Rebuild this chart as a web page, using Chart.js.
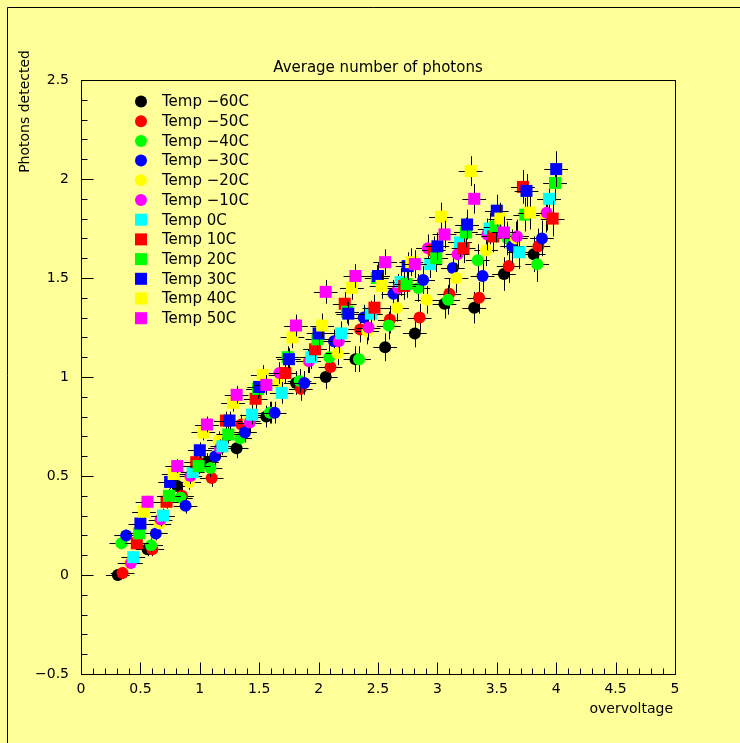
<!DOCTYPE html>
<html>
<head>
<meta charset="utf-8">
<script src="https://cdn.jsdelivr.net/npm/chart.js@4.4.1/dist/chart.umd.min.js"></script>
<style>
  html, body { margin: 0; padding: 0; background: #ffff99; }
</style>
</head>
<body>
<canvas id="photonsChart" width="740" height="743"></canvas>
<script>
// --- data ---
const temps = ['Temp \u221260C', 'Temp \u221250C', 'Temp \u221240C', 'Temp \u221230C', 'Temp \u221220C', 'Temp \u221210C',
               'Temp 0C', 'Temp 10C', 'Temp 20C', 'Temp 30C', 'Temp 40C', 'Temp 50C'];
const markerColors = ['#000000', '#ff0000', '#00ff00', '#0000ff', '#ffff00', '#ff00ff',
                      '#00ffff', '#ff0000', '#00ff00', '#0000ff', '#ffff00', '#ff00ff'];
const markerStyles = ['circle', 'circle', 'circle', 'circle', 'circle', 'circle',
                      'rect', 'rect', 'rect', 'rect', 'rect', 'rect'];

const m60x = [0.31, 0.56, 0.81, 1.06, 1.31, 1.56, 1.81, 2.06, 2.31, 2.56, 2.81, 3.06, 3.31, 3.56, 3.81];
const m60y = [0.00, 0.13, 0.45, 0.57, 0.64, 0.80, 0.97, 1.00, 1.09, 1.15, 1.22, 1.37, 1.35, 1.52, 1.62];
const m50x = [0.35, 0.60, 0.85, 1.10, 1.35, 1.60, 1.85, 2.10, 2.35, 2.60, 2.85, 3.10, 3.35, 3.60, 3.85];
const m50y = [0.01, 0.13, 0.40, 0.49, 0.76, 0.82, 0.94, 1.05, 1.24, 1.29, 1.30, 1.42, 1.40, 1.56, 1.66];
const m40x = [0.34, 0.59, 0.84, 1.09, 1.34, 1.59, 1.84, 2.09, 2.34, 2.59, 2.84, 3.09, 3.34, 3.59, 3.84];
const m40y = [0.16, 0.15, 0.39, 0.54, 0.69, 0.82, 0.98, 1.10, 1.09, 1.26, 1.45, 1.39, 1.59, 1.70, 1.57];
const m30x = [0.38, 0.63, 0.88, 1.13, 1.38, 1.63, 1.88, 2.13, 2.38, 2.63, 2.88, 3.13, 3.38, 3.63, 3.88];
const m30y = [0.20, 0.21, 0.35, 0.60, 0.72, 0.82, 0.97, 1.18, 1.30, 1.42, 1.49, 1.55, 1.51, 1.66, 1.70];
const m20x = [0.41, 0.66, 0.91, 1.16, 1.41, 1.66, 1.91, 2.16, 2.41, 2.66, 2.91, 3.16, 3.41, 3.66, 3.91];
const m20y = [0.06, 0.26, 0.47, 0.68, 0.78, 0.97, 1.08, 1.12, 1.23, 1.35, 1.39, 1.50, 1.64, 1.70, 1.82];
const m10x = [0.42, 0.67, 0.92, 1.17, 1.42, 1.67, 1.92, 2.17, 2.42, 2.67, 2.92, 3.17, 3.42, 3.67, 3.92];
const m10y = [0.06, 0.28, 0.50, 0.64, 0.77, 1.02, 1.08, 1.18, 1.25, 1.45, 1.65, 1.62, 1.72, 1.71, 1.83];
const p0x  = [0.44, 0.69, 0.94, 1.19, 1.44, 1.69, 1.94, 2.19, 2.44, 2.69, 2.94, 3.19, 3.44, 3.69, 3.94];
const p0y  = [0.09, 0.30, 0.52, 0.65, 0.81, 0.92, 1.10, 1.22, 1.32, 1.48, 1.57, 1.68, 1.75, 1.63, 1.90];
const p10x = [0.47, 0.72, 0.97, 1.22, 1.47, 1.72, 1.97, 2.22, 2.47, 2.72, 2.97, 3.22, 3.47, 3.72, 3.97];
const p10y = [0.16, 0.37, 0.57, 0.78, 0.89, 1.02, 1.14, 1.37, 1.35, 1.46, 1.64, 1.65, 1.71, 1.96, 1.80];
const p20x = [0.49, 0.74, 0.99, 1.24, 1.49, 1.74, 1.99, 2.24, 2.49, 2.74, 2.99, 3.24, 3.49, 3.74, 3.99];
const p20y = [0.21, 0.40, 0.55, 0.71, 0.94, 1.10, 1.19, 1.33, 1.50, 1.47, 1.60, 1.73, 1.76, 1.82, 1.98];
const p30x = [0.50, 0.75, 1.00, 1.25, 1.50, 1.75, 2.00, 2.25, 2.50, 2.75, 3.00, 3.25, 3.50, 3.75, 4.00];
const p30y = [0.26, 0.47, 0.63, 0.78, 0.95, 1.09, 1.22, 1.32, 1.51, 1.56, 1.66, 1.77, 1.84, 1.94, 2.05];
const p40x = [0.53, 0.78, 1.03, 1.28, 1.53, 1.78, 2.03, 2.28, 2.53, 2.78, 3.03, 3.28, 3.53, 3.78];
const p40y = [0.32, 0.51, 0.72, 0.87, 1.01, 1.20, 1.26, 1.45, 1.46, 1.58, 1.81, 2.04, 1.80, 1.83];
const p50x = [0.56, 0.81, 1.06, 1.31, 1.56, 1.81, 2.06, 2.31, 2.56, 2.81, 3.06, 3.31, 3.56];
const p50y = [0.37, 0.55, 0.76, 0.91, 0.96, 1.26, 1.43, 1.51, 1.58, 1.57, 1.72, 1.90, 1.73];

// error bars (same for every temperature, by point index)
const xErr = 0.1;
const yErr = [0.03, 0.035, 0.04, 0.045, 0.05, 0.055, 0.06, 0.06, 0.065, 0.07, 0.07, 0.075, 0.08, 0.085, 0.09];

const xTicks = { min: 0, max: 5, step: 0.5, minor: 0.1 };
const yTicks = { min: -0.5, max: 2.5, step: 0.5, minor: 0.1 };

const xSeries = [m60x, m50x, m40x, m30x, m20x, m10x, p0x, p10x, p20x, p30x, p40x, p50x];
const ySeries = [m60y, m50y, m40y, m30y, m20y, m10y, p0y, p10y, p20y, p30y, p40y, p50y];

const FONT = 'DejaVu Sans';
const BG = '#ffff99';

function fmt(v) {
    const s = String(Math.round(v * 10) / 10);
    return v < 0 ? '\u2212' + s.slice(1) : s;
}

const datasets = temps.map((label, i) => ({
    label: label,
    data: xSeries[i].map((x, k) => ({ x: x, y: ySeries[i][k] })),
    pointStyle: markerStyles[i],
    pointRadius: markerStyles[i] === 'rect' ? 8.5 : 6,
    pointBackgroundColor: markerColors[i],
    pointBorderWidth: 0,
    showLine: false,
    order: temps.length - i
}));

// ROOT-like frame: background, borders, inward ticks, error bars, legend, titles
const rootFrame = {
    id: 'rootFrame',
    beforeDraw(chart) {
        const ctx = chart.ctx;
        ctx.save();
        ctx.fillStyle = BG;
        ctx.fillRect(0, 0, chart.width, chart.height);
        ctx.restore();
    },
    beforeDatasetDraw(chart, args) {
        const ctx = chart.ctx;
        const xs = chart.scales.x, ys = chart.scales.y;
        const pts = chart.data.datasets[args.index].data;
        ctx.save();
        ctx.strokeStyle = '#000';
        ctx.lineWidth = 1;
        ctx.beginPath();
        pts.forEach((p, k) => {
            const px = Math.round(xs.getPixelForValue(p.x)) + 0.5;
            const py = Math.round(ys.getPixelForValue(p.y)) + 0.5;
            ctx.moveTo(xs.getPixelForValue(p.x - xErr), py);
            ctx.lineTo(xs.getPixelForValue(p.x + xErr), py);
            ctx.moveTo(px, ys.getPixelForValue(p.y - yErr[k]));
            ctx.lineTo(px, ys.getPixelForValue(p.y + yErr[k]));
        });
        ctx.stroke();
        ctx.restore();
    },
    afterDraw(chart) {
        const ctx = chart.ctx;
        const a = chart.chartArea;
        const xs = chart.scales.x, ys = chart.scales.y;
        ctx.save();
        ctx.strokeStyle = '#000';
        ctx.lineWidth = 1;

        // canvas border
        ctx.beginPath();
        ctx.moveTo(7.5, chart.height);
        ctx.lineTo(7.5, 7.5);
        ctx.lineTo(chart.width, 7.5);
        ctx.stroke();

        // frame
        const L = Math.round(a.left) + 0.5, R = Math.round(a.right) + 0.5;
        const T = Math.round(a.top) + 0.5, B = Math.round(a.bottom) + 0.5;
        ctx.strokeRect(L, T, R - L, B - T);

        // ticks
        ctx.beginPath();
        const nx = Math.round((xTicks.max - xTicks.min) / xTicks.minor);
        for (let i = 0; i <= nx; i++) {
            const v = xTicks.min + i * xTicks.minor;
            const px = Math.round(xs.getPixelForValue(v)) + 0.5;
            const len = (i % 5 === 0) ? 12 : 6;
            ctx.moveTo(px, B);
            ctx.lineTo(px, B - len);
        }
        const ny = Math.round((yTicks.max - yTicks.min) / yTicks.minor);
        for (let i = 0; i <= ny; i++) {
            const v = yTicks.min + i * yTicks.minor;
            const py = Math.round(ys.getPixelForValue(v)) + 0.5;
            const len = (i % 5 === 0) ? 12 : 6;
            ctx.moveTo(L, py);
            ctx.lineTo(L + len, py);
        }
        ctx.stroke();

        // legend
        ctx.font = '15px "' + FONT + '"';
        ctx.textBaseline = 'middle';
        ctx.textAlign = 'left';
        chart.data.datasets.forEach((ds, i) => {
            const y = 101.5 + i * 19.7;
            ctx.fillStyle = ds.pointBackgroundColor;
            Chart.helpers.drawPoint(ctx, { pointStyle: ds.pointStyle, rotation: 0, radius: ds.pointRadius, borderWidth: 0 }, 141, y);
            ctx.fillStyle = '#000';
            ctx.fillText(ds.label, 162, y + 1);
        });

        // titles
        ctx.fillStyle = '#000';
        ctx.font = '15px "' + FONT + '"';
        ctx.textAlign = 'center';
        ctx.fillText('Average number of photons', 378, 68);
        ctx.font = '14px "' + FONT + '"';
        ctx.textAlign = 'right';
        ctx.fillText('overvoltage', 673, 709);
        ctx.save();
        ctx.translate(25, 50);
        ctx.rotate(-Math.PI / 2);
        ctx.textAlign = 'right';
        ctx.fillText('Photons detected', 0, 0);
        ctx.restore();

        ctx.restore();
    }
};

new Chart(document.getElementById('photonsChart'), {
    type: 'scatter',
    data: { datasets: datasets },
    options: {
        responsive: false,
        animation: false,
        layout: { padding: { top: 80, right: 65, left: 0, bottom: 0 } },
        plugins: {
            legend: { display: false },
            tooltip: { enabled: false }
        },
        scales: {
            x: {
                type: 'linear',
                min: xTicks.min,
                max: xTicks.max,
                afterFit: (scale) => { scale.height = 69; },
                grid: { display: false, drawTicks: false },
                border: { display: false },
                ticks: {
                    stepSize: xTicks.step,
                    autoSkip: false,
                    maxRotation: 0,
                    padding: 7,
                    color: '#000',
                    font: { family: FONT, size: 14 },
                    callback: (v) => fmt(v)
                }
            },
            y: {
                type: 'linear',
                min: yTicks.min,
                max: yTicks.max,
                afterFit: (scale) => { scale.width = 81; },
                grid: { display: false, drawTicks: false },
                border: { display: false },
                ticks: {
                    stepSize: yTicks.step,
                    autoSkip: false,
                    padding: 12,
                    color: '#000',
                    font: { family: FONT, size: 14 },
                    callback: (v) => fmt(v)
                }
            }
        }
    },
    plugins: [rootFrame]
});
</script>
</body>
</html>
